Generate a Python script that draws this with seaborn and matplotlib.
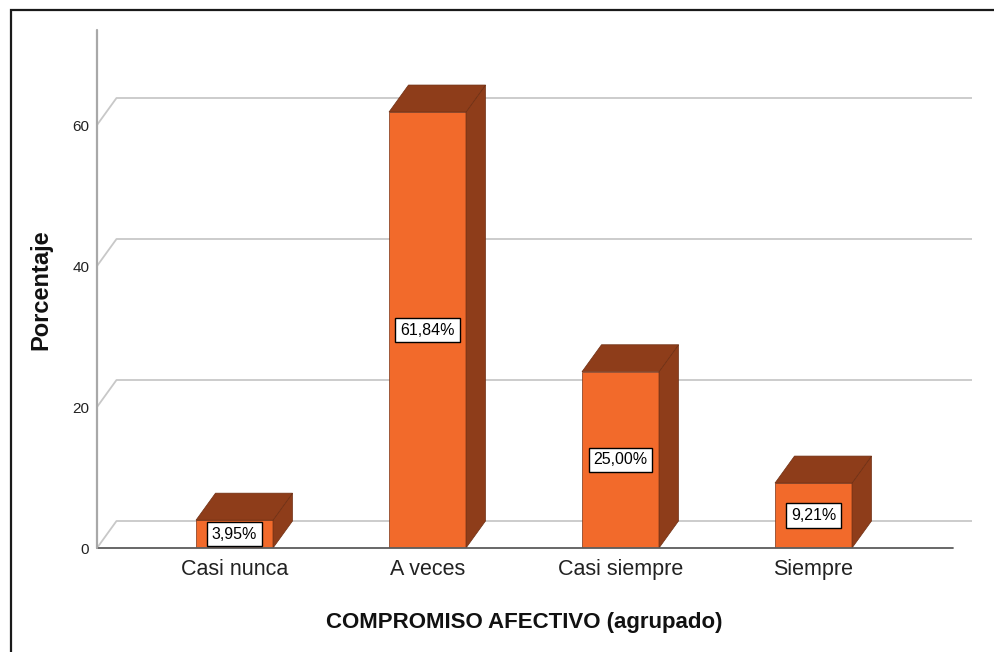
import matplotlib
matplotlib.use("Agg")
import matplotlib.pyplot as plt
from matplotlib.patches import Polygon, Rectangle
import seaborn as sns
import pandas as pd

# datos del grafico
categorias = ["Casi nunca", "A veces", "Casi siempre", "Siempre"]
porcentajes = [3.95, 61.84, 25.00, 9.21]
ticks_y = [0, 20, 40, 60]

naranja = "#F26A2B"
oscuro = "#8E3D1A"
gris_rejilla = "#c8c8c8"

sns.set_theme(style="white")
plt.rcParams["font.family"] = ["Liberation Sans", "DejaVu Sans"]

fig = plt.figure(figsize=(9.94, 6.52), dpi=100)
W, H = 994, 652
# ejes: frente en x=97..952, pared trasera hasta 972; y de 548 (0) a 30
ax = fig.add_axes([97 / W, 1 - 548 / H, (972 - 97) / W, (548 - 30) / H])

df = pd.DataFrame({"cat": categorias, "pct": porcentajes})
sns.barplot(data=df, x="cat", y="pct", color=naranja, width=77 / 193,
            saturation=1, edgecolor="#7a3416", linewidth=0.5, ax=ax, zorder=3)

xl, xr = (97 - 234.5) / 193, (972 - 234.5) / 193
ax.set_xlim(xl, xr)
ax.set_ylim(0, 518 / 7.05)

# profundidad del efecto 3D (en unidades de datos)
dx = 19.5 / 193
dy = 27 / 7.05

# rejilla en la pared trasera con diagonal desde el eje
for v in ticks_y:
    ax.plot([xl, xl + dx, xr], [v, v + dy, v + dy], color=gris_rejilla,
            lw=1.3, zorder=1, clip_on=False, solid_capstyle="butt")
# linea base frontal
ax.plot([xl, xr - dx], [0, 0], color="#5c5c5c", lw=1.3, zorder=4, clip_on=False)
# eje y
ax.plot([xl, xl], [0, 518 / 7.05], color="#a8a8a8", lw=1.6, zorder=4, clip_on=False)

for p, v in zip(ax.patches, porcentajes):
    x0, w, h = p.get_x(), p.get_width(), p.get_height()
    top = Polygon([(x0, h), (x0 + dx, h + dy), (x0 + w + dx, h + dy), (x0 + w, h)],
                  closed=True, facecolor=oscuro, edgecolor="#6e2e12", lw=0.5, zorder=3)
    side = Polygon([(x0 + w, 0), (x0 + w + dx, dy), (x0 + w + dx, h + dy), (x0 + w, h)],
                   closed=True, facecolor=oscuro, edgecolor="#6e2e12", lw=0.5, zorder=3)
    ax.add_patch(side)
    ax.add_patch(top)
    etiqueta = f"{v:.2f}".replace(".", ",") + "%"
    ax.text(x0 + w / 2, h / 2, etiqueta, ha="center", va="center", fontsize=11.5,
            color="black", zorder=6,
            bbox=dict(boxstyle="square,pad=0.3", facecolor="white",
                      edgecolor="black", linewidth=1.0))

for s in ax.spines.values():
    s.set_visible(False)

ax.set_yticks(ticks_y)
ax.set_yticklabels([str(t) for t in ticks_y], fontsize=11, color="#222222")
ax.tick_params(axis="y", length=0, pad=5.5)
ax.tick_params(axis="x", length=0, pad=8, labelsize=15.5, labelcolor="#222222")

ax.set_xlabel("COMPROMISO AFECTIVO (agrupado)", fontsize=16, fontweight="bold",
              color="#111111")
ax.xaxis.set_label_coords((524.5 - 97) / 875, (548 - 612) / 518)
ax.set_ylabel("Porcentaje", fontsize=17, fontweight="bold", color="#111111")
ax.yaxis.set_label_coords((52 - 97) / 875, (548 - 290) / 518)

# marco exterior
fig.patches.append(Rectangle((11 / W, -0.1), 2, 1 - 10 / H + 0.1, transform=fig.transFigure,
                             fill=False, edgecolor="#1a1a1a", lw=1.6))

fig.savefig("out.png", dpi=100)
